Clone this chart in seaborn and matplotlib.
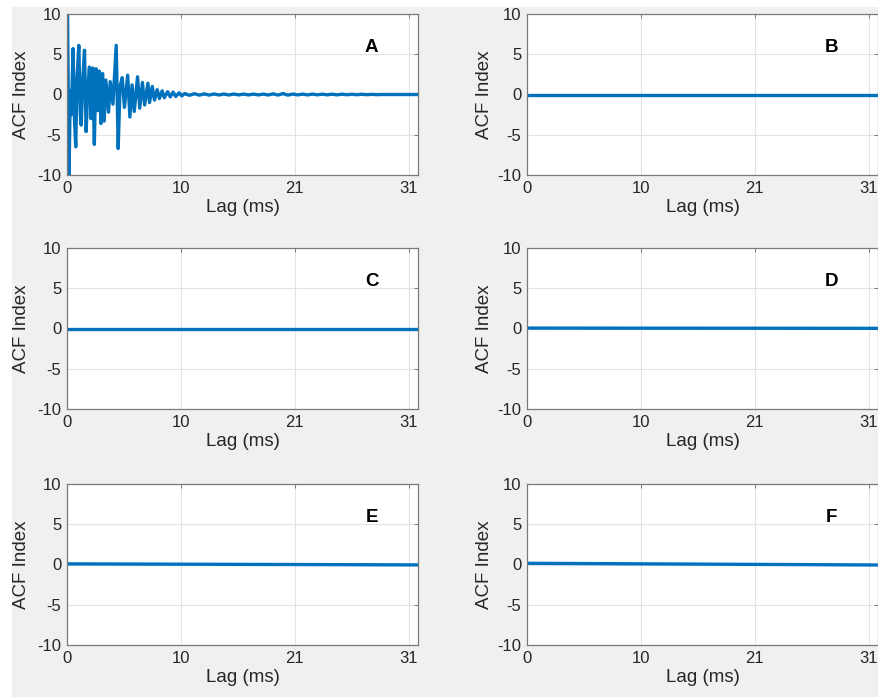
import matplotlib
matplotlib.use("Agg")
import matplotlib.pyplot as plt
import seaborn as sns
import pandas as pd
from matplotlib.patches import Rectangle

# ---------------- data ----------------
panel_letters = ["A", "B", "C", "D", "E", "F"]
xtick_pos = [0, 10.42, 20.83, 31.25]
xtick_labels = ["0", "10", "21", "31"]
yticks = [-10, -5, 0, 5, 10]
x_max = 32.1

lags_A = [0.00, 0.05, 0.18, 0.30, 0.40, 0.55, 0.68, 0.80, 0.92, 1.08, 1.22, 1.30,
          1.45, 1.60, 1.75, 1.90, 2.05, 2.20, 2.35, 2.50, 2.65, 2.80, 2.95, 3.10,
          3.25, 3.40, 3.55, 3.80, 3.95, 4.20, 4.50, 4.68, 4.85, 5.05, 5.25, 5.55,
          5.75, 5.95, 6.15, 6.45, 6.65, 6.90, 7.10, 7.40, 7.55, 7.80, 8.00, 8.25,
          8.45, 8.70, 8.90, 9.20, 9.45, 9.70, 9.95, 10.25, 10.50,
          10.75, 11.20, 11.65, 12.10, 12.55, 13.00, 13.45, 13.90, 14.35, 14.80,
          15.25, 15.70, 16.15, 16.60, 17.05, 17.50, 17.95, 18.40, 18.85, 19.30,
          19.75, 20.20, 20.65, 21.10, 21.55, 22.00, 22.45, 22.90, 23.35, 23.80,
          24.25, 24.70, 25.15, 25.60, 26.05, 26.50, 26.95, 27.40, 27.85, 28.30,
          28.75, 32.10]
acf_A = [10.5, 10.5, -10.5, 0.5, -2.5, 5.7, -2.9, -6.5, 2.2, 6.1, -2.5, -3.8,
         2.0, 5.5, -4.6, 0.5, 3.4, -3.0, 3.3, -6.2, 3.2, -2.0, 2.9, -3.6,
         2.6, -3.3, 1.8, -2.2, 1.6, -1.2, 6.1, -6.7, 1.0, 2.1, -1.6, 2.4,
         -2.8, 1.2, -2.1, 2.2, -1.7, 1.5, -1.3, 1.4, -1.0, 1.0, -0.7, 0.6,
         -0.5, 0.45, -0.4, 0.35, -0.3, 0.3, -0.25, 0.22, -0.18,
         0.12, -0.1, 0.1, -0.08, 0.08, -0.07, 0.07, -0.06, 0.06, -0.06,
         0.06, -0.05, 0.05, -0.05, 0.05, -0.05, 0.05, -0.06, 0.08, -0.07,
         0.12, -0.08, 0.06, -0.05, 0.05, -0.05, 0.05, -0.04, 0.04, -0.04,
         0.04, -0.04, 0.04, -0.03, 0.03, -0.03, 0.03, -0.02, 0.02, -0.02,
         0.0, 0.0]
lags_B = [0.0, 32.1]
acf_B = [0.0, 0.0]
lags_C = [0.0, 32.1]
acf_C = [0.0, 0.0]
lags_D = [0.0, 32.1]
acf_D = [0.05, 0.02]
lags_E = [0.0, 32.1]
acf_E = [0.08, -0.05]
lags_F = [0.0, 32.1]
acf_F = [0.15, -0.06]

series = [(lags_A, acf_A), (lags_B, acf_B), (lags_C, acf_C),
          (lags_D, acf_D), (lags_E, acf_E), (lags_F, acf_F)]

# ---------------- style ----------------
sns.set_theme(style="white")
plt.rcParams["font.family"] = ["Liberation Sans", "DejaVu Sans"]

W, H = 879, 697
fig = plt.figure(figsize=(W / 100, H / 100), dpi=100, facecolor="white")
fig.patches.append(Rectangle((12 / W, 0), 1, 1 - 7 / H, transform=fig.transFigure,
                             facecolor="#f0f0f0", edgecolor="none", zorder=-10))

line_color = "#0072BD"
spine_color = "#7a7a7a"
text_color = "#262626"

col_left = [67, 527]
row_top = [14, 248, 484]
ax_w, ax_h = 351, 161

for i, (lags, acf) in enumerate(series):
    r, c = divmod(i, 2)
    left = col_left[c] / W
    bottom = 1 - (row_top[r] + ax_h) / H
    ax = fig.add_axes([left, bottom, ax_w / W, ax_h / H])
    ax.set_facecolor("white")
    df = pd.DataFrame({"lag": lags, "acf": acf})
    sns.lineplot(data=df, x="lag", y="acf", ax=ax, color=line_color,
                 linewidth=2.4, estimator=None, sort=False)
    ax.set_xlim(0, x_max)
    ax.set_ylim(-10, 10)
    ax.set_xticks(xtick_pos)
    ax.set_xticklabels(xtick_labels)
    ax.set_yticks(yticks)
    ax.set_yticklabels([str(v) for v in yticks])
    ax.grid(True, color="#e3e3e3", linewidth=0.8)
    ax.set_axisbelow(True)
    for s in ax.spines.values():
        s.set_color(spine_color)
        s.set_linewidth(0.9)
    ax.tick_params(direction="in", length=3, width=0.7, color=spine_color,
                   top=True, right=True, labelsize=12, labelcolor=text_color)
    ax.tick_params(axis="y", pad=4)
    ax.tick_params(axis="x", pad=4)
    ax.set_xlabel("Lag (ms)", fontsize=13.5, color=text_color)
    ax.set_ylabel("ACF Index", fontsize=13.5, color=text_color)
    ax.xaxis.set_label_coords(0.5, -0.15)
    ax.yaxis.set_label_coords(-0.105 if c == 0 else -0.097, 0.5)
    ax.text(0.868, 0.795, panel_letters[i], transform=ax.transAxes,
            ha="center", va="center", fontsize=13.5, fontweight="bold", color="black")

fig.savefig("out.png", dpi=100, facecolor=fig.get_facecolor())
